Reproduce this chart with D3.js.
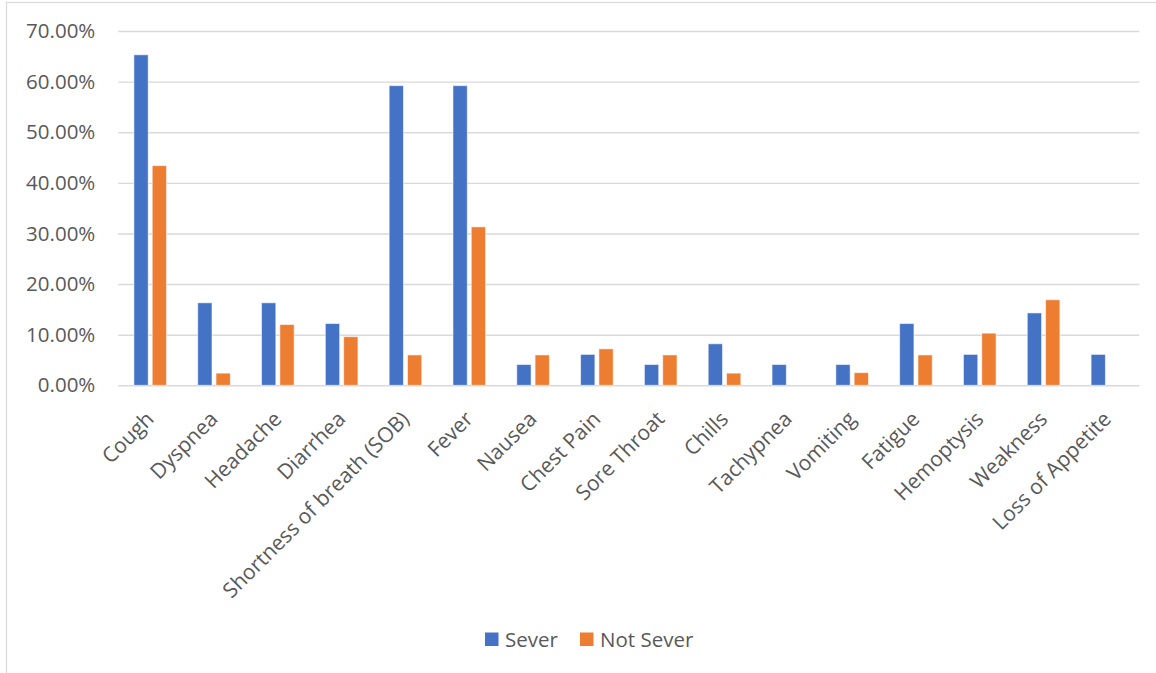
<!DOCTYPE html>
<html>
<head>
<meta charset="utf-8">
<script src="https://cdn.jsdelivr.net/npm/d3@7"></script>
<style>
  html, body { margin: 0; padding: 0; background: #fff; }
  svg { display: block; font-family: "Open Sans", sans-serif; }
</style>
</head>
<body>
<svg id="chart" width="1156" height="673"></svg>
<script>
// Symptom categories along the x axis
const categories = [
  "Cough", "Dyspnea", "Headache", "Diarrhea", "Shortness of breath (SOB)",
  "Fever", "Nausea", "Chest Pain", "Sore Throat", "Chills", "Tachypnea",
  "Vomiting", "Fatigue", "Hemoptysis", "Weakness", "Loss of Appetite"
];

// Share of patients (%) with each symptom
const severValues = [65.3, 16.3, 16.3, 12.2, 59.2, 59.2, 4.1, 6.1, 4.1, 8.2, 4.1, 4.1, 12.2, 6.1, 14.3, 6.1];
const notSeverValues = [43.4, 2.4, 12.0, 9.6, 6.0, 31.3, 6.0, 7.2, 6.0, 2.4, null, 2.5, 6.0, 10.3, 16.9, null];

const seriesNames = ["Sever", "Not Sever"];
const seriesColors = ["#4472C4", "#ED7D31"];
const yTicks = [0, 10, 20, 30, 40, 50, 60, 70];

const seriesValues = [severValues, notSeverValues];
const rows = categories.map((c, i) => ({
  category: c,
  values: seriesNames.map((s, k) => ({ series: s, value: seriesValues[k][i], color: seriesColors[k] }))
}));

const svg = d3.select("#chart");
const textColor = "#595959";
const gridColor = "#D9D9D9";

// Outer chart frame
svg.append("rect")
  .attr("x", 6.5).attr("y", 2.5)
  .attr("width", 1160).attr("height", 690)
  .attr("fill", "none").attr("stroke", gridColor).attr("stroke-width", 1.2);

const plot = { left: 118.3, right: 1139.3, top: 31, bottom: 385.3 };

const x0 = d3.scaleBand().domain(categories).range([plot.left, plot.right]).paddingInner(0).paddingOuter(0);
const half = 16.3;
const x1 = d3.scaleBand().domain(seriesNames)
  .range([x0.bandwidth() / 2 - half, x0.bandwidth() / 2 + half])
  .paddingInner(0.22).paddingOuter(0);
const y = d3.scaleLinear().domain([0, 70]).range([plot.bottom, plot.top]);

// Horizontal gridlines and y tick labels
const yAxis = svg.append("g")
  .attr("transform", `translate(${plot.left},0)`)
  .call(d3.axisLeft(y).tickValues(yTicks)
    .tickSize(-(plot.right - plot.left))
    .tickPadding(23)
    .tickFormat(d => d3.format(".2f")(d) + "%"));
yAxis.select(".domain").remove();
yAxis.selectAll(".tick line").attr("stroke", gridColor).attr("stroke-width", 1.4);
yAxis.selectAll(".tick text")
  .attr("fill", textColor)
  .style("font-size", "20.5px")
  .style("font-family", "'Open Sans', sans-serif");

// Bars
const groups = svg.append("g").selectAll("g")
  .data(rows)
  .join("g")
  .attr("transform", d => `translate(${x0(d.category)},0)`);

groups.selectAll("rect")
  .data(d => d.values.filter(v => v.value != null))
  .join("rect")
  .attr("x", d => x1(d.series))
  .attr("width", x1.bandwidth())
  .attr("y", d => y(d.value))
  .attr("height", d => y(0) - y(d.value))
  .attr("fill", d => d.color)
  .attr("stroke", "rgba(255,255,255,0.55)")
  .attr("stroke-width", 1);

// Category axis with rotated labels
const xAxis = svg.append("g")
  .attr("transform", `translate(0,${plot.bottom})`)
  .call(d3.axisBottom(x0).tickSize(0).tickSizeOuter(0));
xAxis.select(".domain").remove();
xAxis.selectAll(".tick text")
  .attr("x", 0).attr("y", 0).attr("dy", 0)
  .attr("text-anchor", "end")
  .attr("transform", "translate(5,35) rotate(-45)")
  .attr("fill", textColor)
  .style("font-size", "21px")
  .style("font-family", "'Open Sans', sans-serif");

// Legend
const legendItems = [
  { name: seriesNames[0], color: seriesColors[0], x: 485 },
  { name: seriesNames[1], color: seriesColors[1], x: 580 }
];
const legend = svg.append("g");
const li = legend.selectAll("g").data(legendItems).join("g")
  .attr("transform", d => `translate(${d.x},632.5)`);
li.append("rect").attr("width", 13.5).attr("height", 13.5).attr("fill", d => d.color);
li.append("text")
  .attr("x", 20).attr("y", 14)
  .attr("fill", textColor)
  .style("font-size", "20.5px")
  .text(d => d.name);
</script>
</body>
</html>
